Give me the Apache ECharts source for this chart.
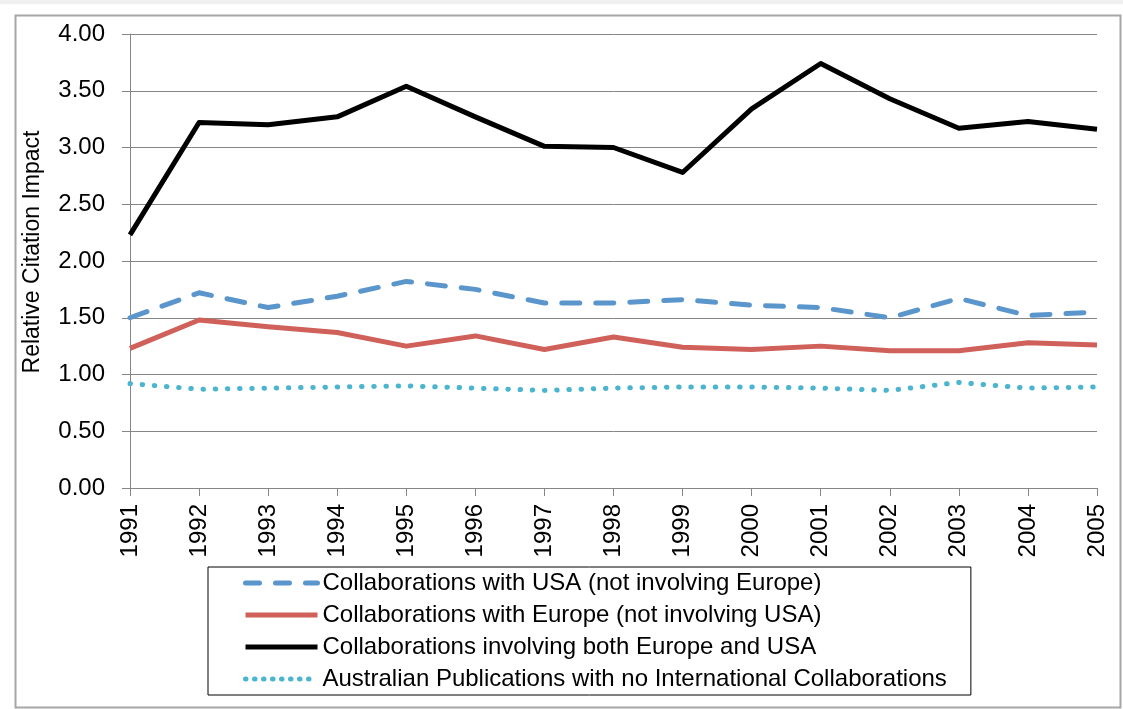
<!DOCTYPE html>
<html>
<head>
<meta charset="utf-8">
<script src="https://cdn.jsdelivr.net/npm/echarts@6/dist/echarts.min.js"></script>
<style>
html,body{margin:0;padding:0;background:#fff;}
#chart{width:1123px;height:709px;}
</style>
</head>
<body>
<div id="chart"></div>
<script>
const years = ['1991','1992','1993','1994','1995','1996','1997','1998','1999','2000','2001','2002','2003','2004','2005'];
const seriesNames = [
  'Collaborations with USA (not involving Europe)',
  'Collaborations with Europe (not involving USA)',
  'Collaborations involving both Europe and USA',
  'Australian Publications with no International Collaborations'
];
const usaOnly    = [1.50, 1.72, 1.59, 1.69, 1.82, 1.75, 1.63, 1.63, 1.66, 1.61, 1.59, 1.50, 1.67, 1.52, 1.55];
const europeOnly = [1.23, 1.48, 1.42, 1.37, 1.25, 1.34, 1.22, 1.33, 1.24, 1.22, 1.25, 1.21, 1.21, 1.28, 1.26];
const bothEuUsa  = [2.23, 3.22, 3.20, 3.27, 3.54, 3.27, 3.01, 3.00, 2.78, 3.34, 3.74, 3.43, 3.17, 3.23, 3.16];
const noIntl     = [0.92, 0.87, 0.88, 0.89, 0.90, 0.88, 0.86, 0.88, 0.89, 0.89, 0.88, 0.86, 0.93, 0.88, 0.89];
const yTicks = ['0.00','0.50','1.00','1.50','2.00','2.50','3.00','3.50','4.00'];

const FONT = '"Liberation Sans", Arial, sans-serif';
const chart = echarts.init(document.getElementById('chart'), null, {renderer:'canvas'});

function mk(name, data, color, width, type, cap, z) {
  return {
    name: name, type: 'line', data: data,
    symbol: 'none', showSymbol: false, smooth: false, z: z,
    lineStyle: {color: color, width: width, type: type, cap: cap, join: 'round'},
    itemStyle: {color: color},
    emphasis: {disabled: true}
  };
}

const colors = ['#5A96CC', '#D0605A', '#000000', '#4BB5CF'];
const widths = [5, 5, 5, 5];
const types = [[18, 16], 'solid', 'solid', [0.5, 11.7]];
const caps = ['round', 'butt', 'butt', 'round'];
const legendTypes = [[14, 16], 'solid', 'solid', [0.5, 8.5]];

chart.setOption({
  animation: false,
  backgroundColor: '#ffffff',
  textStyle: {fontFamily: FONT},
  graphic: [
    {type:'rect', left:0, top:0, shape:{width:1123, height:4}, style:{fill:'#f0f0f0'}, silent:true},
    {type:'rect', left:13, top:13, shape:{x:0,y:0,width:1105, height:692}, style:{fill:'none', stroke:'#a6a6a6', lineWidth:2}, silent:true}
  ],
  grid: {left:130, right:26, top:34, bottom:221, containLabel:false},
  xAxis: {
    type: 'category', data: years, boundaryGap: false,
    axisLine: {show:true, lineStyle:{color:'#868686', width:1}},
    axisTick: {show:true, alignWithLabel:true, length:8, lineStyle:{color:'#868686'}},
    axisLabel: {rotate:90, fontSize:24, color:'#000', fontFamily:FONT, margin:16, interval:0},
    splitLine: {show:false}
  },
  yAxis: {
    type: 'value', min:0, max:4, interval:0.5,
    name: 'Relative Citation Impact', nameLocation:'middle', nameGap:86, nameRotate:90,
    nameTextStyle: {fontSize:23, color:'#000', fontFamily:FONT, padding:[0,0,0,18]},
    axisLine: {show:true, lineStyle:{color:'#868686', width:1}},
    axisTick: {show:true, length:8, lineStyle:{color:'#868686'}},
    axisLabel: {fontSize:24, color:'#000', fontFamily:FONT, margin:25,
      formatter: function(v){ const i = Math.round(v/0.5); return yTicks[i] !== undefined ? yTicks[i] : v.toFixed(2); }},
    splitLine: {show:true, lineStyle:{color:'#868686', width:1}}
  },
  legend: {
    orient:'vertical', left:208, top:567,
    itemWidth:72, itemHeight:1, itemGap:8,
    padding:[4, 24, 4, 35],
    borderColor:'#000', borderWidth:1,
    textStyle:{fontSize:24, color:'#000', fontFamily:FONT},
    data: seriesNames.map((n, i) => ({name:n, lineStyle:{width:widths[i], type:legendTypes[i], cap:caps[i], color:colors[i]}}))
  },
  series: seriesNames.map((n, i) => mk(n, [usaOnly, europeOnly, bothEuUsa, noIntl][i], colors[i], widths[i], types[i], caps[i], i === 2 ? 4 : (i === 3 ? 2 : 3)))
});
</script>
</body>
</html>
